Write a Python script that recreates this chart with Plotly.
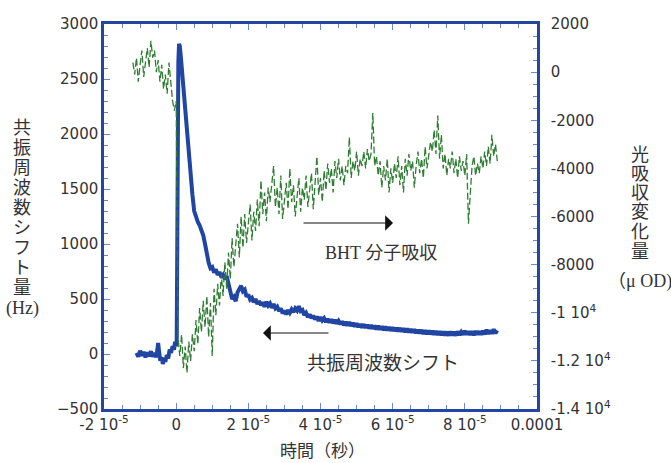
import plotly.graph_objects as go
from plotly.subplots import make_subplots

# ---------------- data ----------------
# resonance frequency shift (Hz), time in microseconds
shift_t_us = [-11, -10.5, -10, -9.5, -9, -8.5, -8, -7.5, -7, -6.5, -6, -5.5, -5.2, -5, -4.7, -4.4,
              -4, -3.7, -3.3, -3, -2.6, -2.2, -1.8, -1.4, -1, -0.6, -0.3, 0, 0.15,
              0.2, 0.4, 0.6, 0.8, 1.0, 1.3, 1.6, 2, 2.5, 3, 3.5, 4, 4.5, 5, 5.5, 6, 6.5, 7, 7.5,
              8, 8.5,
              9, 9.5, 10, 10.5, 11, 11.5, 12, 12.5, 13, 13.5, 14, 14.5, 15, 15.5, 16, 16.5, 17,
              17.5, 18, 18.5, 19, 19.5,
              20, 20.5, 21, 21.5, 22, 22.5, 23, 23.5, 24, 24.5, 25, 25.5, 26, 26.5, 27, 27.5,
              28, 28.5, 29, 29.5, 30, 30.5, 31, 31.5, 32, 32.5, 33, 33.5, 34, 34.5, 35, 35.5,
              36, 36.5, 37, 37.5, 38, 38.5, 39, 39.5, 40, 40.5, 41, 41.5, 42, 42.5, 43, 43.5,
              44, 44.5, 45, 45.5, 46, 46.5, 47, 47.5, 48, 48.5, 49, 49.5, 50, 50.5, 51, 51.5,
              52, 52.5, 53, 53.5, 54, 54.5, 55, 55.5, 56, 56.5, 57, 57.5, 58, 58.5, 59, 59.5,
              60, 60.5, 61, 61.5, 62, 62.5, 63, 63.5, 64, 64.5, 65, 65.5, 66, 66.5, 67, 67.5,
              68, 68.5, 69, 69.5, 70, 70.5, 71, 71.5, 72, 72.5, 73, 73.5, 74, 74.5, 75, 75.5,
              76, 76.5, 77, 77.5, 78, 78.5, 79, 79.5, 80, 80.5, 81, 81.5, 82, 82.5, 83, 83.5,
              84, 84.5, 85, 85.5, 86, 86.5, 87, 87.5, 88, 88.5, 89]
shift_hz = [10, -25, 30, -15, 20, -30, 15, -20, 25, -25, 10, -30, 40, 100, 10, -60,
            -30, -90, -40, -70, -10, -40, 40, 10, 70, 40, 110, 70, 120,
            800, 2000, 2650, 2820, 2800, 2700, 2580, 2400, 2200, 1990, 1800, 1620, 1450, 1300, 1240, 1200, 1170, 1130, 1080,
            1000, 900,
            830, 780, 790, 740, 770, 720, 745, 700, 720, 680, 710, 640, 570, 500, 520, 480, 560,
            600, 620, 570, 585, 520,
            540, 495, 510, 470, 500, 455, 480, 445, 470, 430, 475, 440, 460, 420, 455, 415,
            430, 390, 415, 370, 395, 360, 400, 375, 405, 380, 415, 395, 435, 390, 400, 355,
            375, 335, 360, 325, 350, 315, 340, 300, 335, 305, 325, 290, 320, 285, 315, 280,
            310, 275, 300, 270, 298, 262, 292, 258, 290, 255, 282, 250, 278, 245, 272, 240,
            270, 238, 265, 232, 262, 230, 258, 225, 255, 222, 250, 218, 248, 216, 245, 212,
            242, 210, 238, 206, 236, 204, 232, 200, 230, 198, 226, 194, 224, 190, 220, 188,
            218, 184, 214, 182, 212, 180, 210, 176, 208, 175, 205, 172, 204, 170, 202, 168,
            204, 170, 200, 168, 205, 172, 200, 175, 210, 176, 206, 174, 205, 172, 208, 178,
            206, 176, 210, 180, 220, 182, 215, 185, 225, 190, 215]

# BHT molecular absorption change (micro OD), time in microseconds
abs_t_us = [-12, -11.5, -11, -10.5, -10, -9.5, -9, -8.5, -8, -7.5, -7, -6.5, -6, -5.5, -5, -4.5,
            -4, -3.5, -3, -2.5, -2, -1.5, -1, -0.5, 0, 0.25, 0.5, 1, 1.5, 2, 2.5, 3, 3.5, 4, 4.5,
            5, 5.5, 6, 6.5, 7, 7.5, 8, 8.5, 9, 9.5, 10, 10.5, 11, 11.5, 12, 12.5, 13, 13.5, 14,
            14.5, 15, 15.5, 16, 16.5, 17, 17.5, 18, 18.5, 19, 19.5, 20, 20.5, 21, 21.5, 22, 22.5,
            23, 23.5, 24, 24.5, 25, 25.5, 26, 26.5, 27, 27.5, 28, 28.5, 29, 29.5, 30, 30.5, 31,
            31.5, 32, 32.5, 33, 33.5, 34, 34.5, 35, 35.5, 36, 36.5, 37, 37.5, 38, 38.5, 39, 39.5,
            40, 40.5, 41, 41.5, 42, 42.5, 43, 43.5, 44, 44.5, 45, 45.5, 46, 46.5, 47, 47.5, 48,
            48.5, 49, 49.5, 50, 50.5, 51, 51.5, 52, 52.5, 53, 53.5, 54, 54.5, 55, 55.5, 56, 56.5,
            57, 57.5, 58, 58.5, 59, 59.5, 60, 60.5, 61, 61.5, 62, 62.5, 63, 63.5, 64, 64.5, 65,
            65.5, 66, 66.5, 67, 67.5, 68, 68.5, 69, 69.5, 70, 70.5, 71, 71.5, 72, 72.5, 73, 73.5,
            74, 74.5, 75, 75.5, 76, 76.5, 77, 77.5, 78, 78.5, 79, 79.5, 80, 80.5, 81, 81.5, 82,
            82.5, 83, 83.5, 84, 84.5, 85, 85.5, 86, 86.5, 87, 87.5, 88, 88.5, 89]
abs_uod = [400, -100, 600, -400, 300, 900, -200, 500, 1000, 200, 1300, 600, 900, 0, 500, -400,
           300, -700, -100, -900, 400, -400, -1200, -1600, -1200, -6000, -11000, -11800, -10900, -12300, -11400, -12500, -11200, -12000, -10900,
           -11600, -10300, -11300, -9800, -10800, -9500, -10600, -9300, -11000, -9600, -11800, -9000, -10100, -8800, -9700, -8400, -9300, -7900, -9000,
           -7500, -8600, -6900, -8100, -7200, -6300, -7700, -6000, -7300, -5900, -7100, -6200, -5500, -7000, -5800, -6600, -5300,
           -6400, -4500, -5900, -5000, -6200, -4800, -5400, -4600, -3900, -5600, -4800, -5900, -4300, -6100, -5200, -4600, -5700,
           -4000, -5400, -4700, -6000, -5000, -4400, -5800, -4800, -5300, -4300, -5600, -4900, -4200, -5700, -4700, -3500, -5100,
           -4400, -5400, -4100, -4900, -3800, -4600, -4000, -5000, -3700, -4400, -3600, -4500, -3900, -4700, -3900, -4200, -2700, -4400,
           -3700, -4100, -3300, -4300, -3600, -3900, -3300, -4000, -3200, -3700, -3400, -1700, -3900, -3500, -4300, -3700, -4800,
           -3900, -4500, -3600, -5000, -4000, -4600, -3800, -4400, -3500, -4700, -3900, -5000, -3600, -4300, -3400, -4100, -3700,
           -4800, -3900, -3300, -4200, -3600, -4400, -3100, -4000, -3500, -2900, -3300, -2400, -3400, -1800, -3600, -2600, -4000,
           -3400, -4300, -3600, -4000, -3300, -4200, -3600, -4400, -3500, -4100, -3700, -4300, -3400, -6300, -4800, -3900, -3500,
           -4300, -3800, -4200, -3500, -4000, -3300, -3900, -3100, -3800, -2600, -3500, -3000, -3700, -2400, -3400, -3200]

x_tickvals = [-2e-5, 0, 2e-5, 4e-5, 6e-5, 8e-5, 1e-4]
x_ticktext = ["-2 10<sup>-5</sup>", "0", "2 10<sup>-5</sup>", "4 10<sup>-5</sup>",
              "6 10<sup>-5</sup>", "8 10<sup>-5</sup>", "0.0001"]
y2_tickvals = [2000, 0, -2000, -4000, -6000, -8000, -10000, -12000, -14000]
y2_ticktext = ["2000", "0", "-2000", "-4000", "-6000", "-8000",
               "-1 10<sup>4</sup>", "-1.2 10<sup>4</sup>", "-1.4 10<sup>4</sup>"]

left_title_chars = ["共", "振", "周", "波", "数", "シ", "フ", "ト", "量", "(Hz)"]
right_title_chars = ["光", "吸", "収", "変", "化", "量", "（μ OD)"]

# ---------------- figure ----------------
AXIS = "#2446a3"
TICK = "#6a8ad0"
TXT = "#333333"
SERIF_CJK = "Liberation Serif, Noto Sans CJK JP"
CJK = "Noto Sans CJK JP"

fig = make_subplots(specs=[[{"secondary_y": True}]])

fig.add_trace(go.Scatter(
    x=[t * 1e-6 for t in abs_t_us], y=abs_uod, mode="lines",
    line=dict(color="#2e7d32", width=1.3, dash="7px,3px"), showlegend=False),
    secondary_y=True)
fig.add_trace(go.Scatter(
    x=[t * 1e-6 for t in shift_t_us], y=shift_hz, mode="lines",
    line=dict(color="#2045a2", width=4), showlegend=False),
    secondary_y=False)

tickfont = dict(family="DejaVu Sans", size=15, color=TXT)

fig.update_xaxes(domain=[0, 1], range=[-2e-5, 1e-4], tickvals=x_tickvals, ticktext=x_ticktext,
                 ticks="inside", ticklen=6, tickwidth=1, tickcolor=TICK,
                 minor=dict(dtick=5e-6, tick0=0, ticks="inside", ticklen=4, tickcolor=TICK),
                 showline=True, linecolor=AXIS, linewidth=2.5, mirror="ticks",
                 showgrid=False, zeroline=False, tickfont=tickfont)
fig.update_yaxes(range=[-500, 3000], dtick=500, tick0=0,
                 ticks="inside", ticklen=6, tickwidth=1, tickcolor=TICK,
                 minor=dict(dtick=100, ticks="inside", ticklen=4, tickcolor=TICK),
                 showline=True, linecolor=AXIS, linewidth=2.5,
                 showgrid=False, zeroline=False, tickfont=tickfont, secondary_y=False)
fig.update_yaxes(range=[-14000, 2000], tickvals=y2_tickvals, ticktext=y2_ticktext,
                 ticks="inside", ticklen=6, tickwidth=1, tickcolor=TICK,
                 minor=dict(dtick=500, ticks="inside", ticklen=4, tickcolor=TICK),
                 showline=True, linecolor=AXIS, linewidth=2.5, ticklabelstandoff=8,
                 showgrid=False, zeroline=False, tickfont=tickfont, secondary_y=True)

W, H = 671, 463
L, R, T, B = 104, 134, 24, 54
pw, ph = W - L - R, H - T - B


def px(x):
    return (x - L) / pw


def py(y):
    return (H - B - y) / ph


def label(text, x, y, size, family=SERIF_CJK):
    fig.add_annotation(xref="paper", yref="paper", showarrow=False, text=text,
                       x=px(x), y=py(y), xanchor="center", yanchor="middle",
                       font=dict(family=family, size=size, color=TXT))


left_y = [128, 148, 168, 188, 208, 228, 248, 268, 288, 308]
for ch, yy in zip(left_title_chars, left_y):
    label(ch, 22, yy, 18 if len(ch) == 1 else 18)

right_y = [155, 174, 193, 212, 232, 252, 281]
for ch, yy in zip(right_title_chars, right_y):
    label(ch, 640, yy, 18 if len(ch) == 1 else 18)

label("時間（秒）", 322, 449, 17, CJK)
label("BHT 分子吸収", 381, 253, 18)
label("共振周波数シフト", 383, 363, 19)

# arrows
fig.add_annotation(xref="paper", yref="paper", x=px(393), y=py(223), ax=-91, ay=0,
                   text="", showarrow=True, arrowhead=1, arrowsize=2.6, arrowwidth=1,
                   arrowcolor="#111111")
fig.add_annotation(xref="paper", yref="paper", x=px(263), y=py(333), ax=67, ay=0,
                   text="", showarrow=True, arrowhead=1, arrowsize=2.6, arrowwidth=1,
                   arrowcolor="#111111")

fig.update_layout(width=W, height=H, margin=dict(l=L, r=R, t=T, b=B, autoexpand=False),
                  paper_bgcolor="white", plot_bgcolor="white", showlegend=False)

fig.write_html("out.html")
